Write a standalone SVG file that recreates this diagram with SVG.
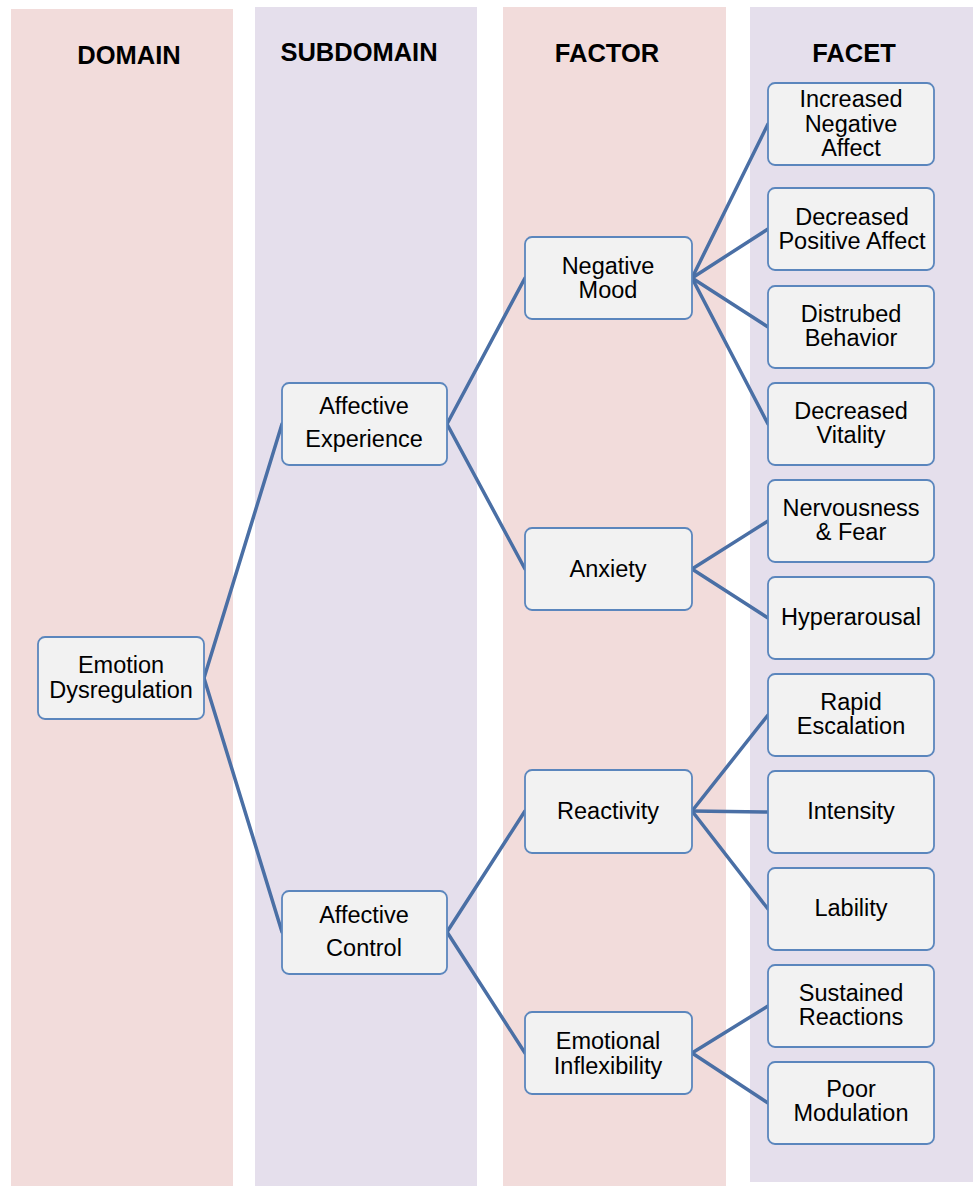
<svg xmlns="http://www.w3.org/2000/svg" width="973" height="1186" viewBox="0 0 973 1186">
<style>
.band-p{fill:#f2dcdb}
.band-l{fill:#e5dfec}
.hdr{font-family:"Liberation Sans",Arial,sans-serif;font-size:25.5px;font-weight:bold;fill:#000;text-anchor:middle}
.box{fill:#f2f2f2;stroke:#5b86bd;stroke-width:1.8}
.lbl{font-family:"Liberation Sans",Arial,sans-serif;font-size:23.5px;fill:#000;text-anchor:middle}
.con line{stroke:#4a6fa5;stroke-width:3.5;stroke-linecap:round}
</style>
<rect x="0" y="0" width="973" height="1186" fill="#ffffff"/>
<rect class="band-p" x="11" y="9" width="222" height="1177"/>
<rect class="band-l" x="255" y="7" width="222" height="1179"/>
<rect class="band-p" x="503" y="7" width="223" height="1179"/>
<rect class="band-l" x="750" y="7" width="223" height="1175"/>
<text class="hdr" x="129" y="64">DOMAIN</text>
<text class="hdr" x="359" y="61">SUBDOMAIN</text>
<text class="hdr" x="607" y="62">FACTOR</text>
<text class="hdr" x="854" y="62">FACET</text>
<g class="con" id="connectors">
<line x1="204" y1="678" x2="282" y2="424"/>
<line x1="204" y1="678" x2="282" y2="932"/>
<line x1="447" y1="424" x2="525" y2="278"/>
<line x1="447" y1="424" x2="525" y2="569"/>
<line x1="447" y1="932" x2="525" y2="811"/>
<line x1="447" y1="932" x2="525" y2="1053"/>
<line x1="692" y1="278" x2="768" y2="124"/>
<line x1="692" y1="278" x2="768" y2="229"/>
<line x1="692" y1="278" x2="768" y2="327"/>
<line x1="692" y1="278" x2="768" y2="424"/>
<line x1="692" y1="569" x2="768" y2="521"/>
<line x1="692" y1="569" x2="768" y2="618"/>
<line x1="692" y1="811" x2="768" y2="715"/>
<line x1="692" y1="811" x2="768" y2="812"/>
<line x1="692" y1="811" x2="768" y2="909"/>
<line x1="692" y1="1053" x2="768" y2="1006"/>
<line x1="692" y1="1053" x2="768" y2="1103"/>
</g>
<g id="n-emotion"><rect class="box" x="38" y="637" width="166" height="82" rx="7"/><text class="lbl" x="121" y="673">Emotion</text><text class="lbl" x="121" y="698">Dysregulation</text></g>
<g id="n-affexp"><rect class="box" x="282" y="383" width="165" height="82" rx="7"/><text class="lbl" x="364" y="414">Affective</text><text class="lbl" x="364" y="447">Experience</text></g>
<g id="n-affctl"><rect class="box" x="282" y="891" width="165" height="83" rx="7"/><text class="lbl" x="364" y="923">Affective</text><text class="lbl" x="364" y="956">Control</text></g>
<g id="n-negmood"><rect class="box" x="525" y="237" width="167" height="82" rx="7"/><text class="lbl" x="608" y="274">Negative</text><text class="lbl" x="608" y="298">Mood</text></g>
<g id="n-anxiety"><rect class="box" x="525" y="528" width="167" height="82" rx="7"/><text class="lbl" x="608" y="577">Anxiety</text></g>
<g id="n-reactivity"><rect class="box" x="525" y="770" width="167" height="83" rx="7"/><text class="lbl" x="608" y="819">Reactivity</text></g>
<g id="n-emoinfl"><rect class="box" x="525" y="1012" width="167" height="82" rx="7"/><text class="lbl" x="608" y="1049">Emotional</text><text class="lbl" x="608" y="1074">Inflexibility</text></g>
<g id="f-ina"><rect class="box" x="768" y="83" width="166" height="82" rx="7"/><text class="lbl" x="851" y="107">Increased</text><text class="lbl" x="851" y="132">Negative</text><text class="lbl" x="851" y="156">Affect</text></g>
<g id="f-dpa"><rect class="box" x="768" y="188" width="166" height="82" rx="7"/><text class="lbl" x="852" y="225">Decreased</text><text class="lbl" x="852" y="249">Positive Affect</text></g>
<g id="f-db"><rect class="box" x="768" y="286" width="166" height="82" rx="7"/><text class="lbl" x="851" y="322">Distrubed</text><text class="lbl" x="851" y="346">Behavior</text></g>
<g id="f-dv"><rect class="box" x="768" y="383" width="166" height="82" rx="7"/><text class="lbl" x="851" y="419">Decreased</text><text class="lbl" x="851" y="443">Vitality</text></g>
<g id="f-nf"><rect class="box" x="768" y="480" width="166" height="82" rx="7"/><text class="lbl" x="851" y="516">Nervousness</text><text class="lbl" x="851" y="540">&amp; Fear</text></g>
<g id="f-hy"><rect class="box" x="768" y="577" width="166" height="82" rx="7"/><text class="lbl" x="851" y="625">Hyperarousal</text></g>
<g id="f-re"><rect class="box" x="768" y="674" width="166" height="82" rx="7"/><text class="lbl" x="851" y="710">Rapid</text><text class="lbl" x="851" y="734">Escalation</text></g>
<g id="f-in"><rect class="box" x="768" y="771" width="166" height="82" rx="7"/><text class="lbl" x="851" y="819">Intensity</text></g>
<g id="f-la"><rect class="box" x="768" y="868" width="166" height="82" rx="7"/><text class="lbl" x="851" y="916">Lability</text></g>
<g id="f-sr"><rect class="box" x="768" y="965" width="166" height="82" rx="7"/><text class="lbl" x="851" y="1001">Sustained</text><text class="lbl" x="851" y="1025">Reactions</text></g>
<g id="f-pm"><rect class="box" x="768" y="1062" width="166" height="82" rx="7"/><text class="lbl" x="851" y="1097">Poor</text><text class="lbl" x="851" y="1121">Modulation</text></g>
</svg>
